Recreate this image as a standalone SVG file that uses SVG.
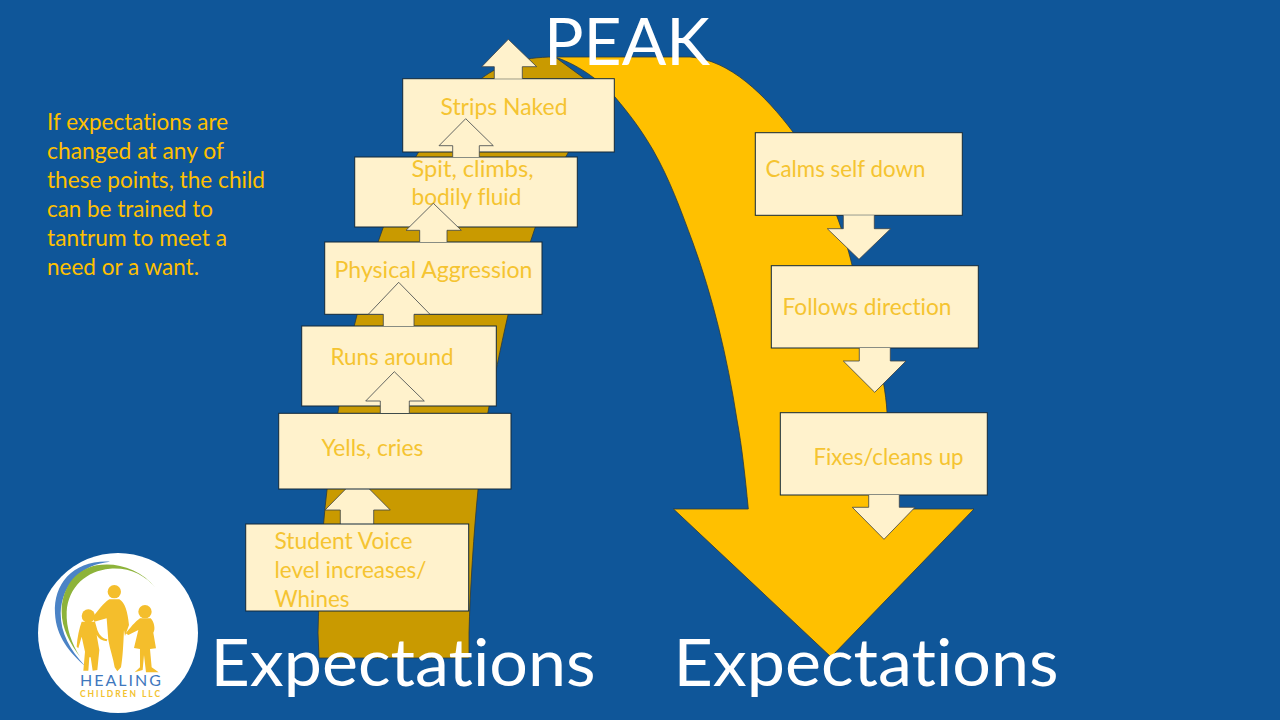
<svg xmlns="http://www.w3.org/2000/svg" width="1280" height="720" viewBox="0 0 1280 720">
<style>
.box{fill:#FFF2CC;stroke:#12283a;stroke-width:1}
.arw{fill:#FFF2CC;stroke:#3d4448;stroke-width:.8}
text{font-family:Lato,"Open Sans",sans-serif;font-variant-ligatures:none}
.lbl{font-size:23px;fill:#F5C431}
.side{font-size:23px;fill:#FFC000}
.big{fill:#fff;font-size:65px}
</style>
<rect width="1280" height="720" fill="#0F5699"/>
<g id="curve">
<path d="M319,658 L318,633 C319,590 322,530 327,490 C331,460 334,435 338,412 C343,380 349,345 357,315 C365,285 372,258 383,228 C393,200 405,175 418,153 C435,125 458,97 482,78 C500,65 520,57 555,57 L600,90 C590,110 578,130 568,153 C555,175 545,200 535,228 C525,258 516,285 508,315 C500,350 494,380 488,412 C484,435 481,460 478,490 C474,530 470,590 469,633 L469,658 Z" fill="#C99A00" stroke="#2b3a3f" stroke-width=".8"/>
<path d="M555,57 H690 C730,60 765,95 793,132 C825,175 845,235 852,265 C870,320 885,375 887,412 L888,509 L974,509 L831,657 L673.500,509 L748.300,509 C745,475 742,447 737,420 C727,355 712,295 693,243 C680,208 670,180 653,150 C640,128 630,115 615,97 C603,84 582,66 555,57 Z" fill="#FFC000" stroke="#2b3a3f" stroke-width=".8"/>
</g>
<g id="connector-back">
<path class="arw" d="M340.300,524 V510 H325 L357.500,477 L390.300,510 H373.700 V524"/>
</g>
<g id="node-student"><rect class="box" x="245.700" y="524" width="223" height="87"/><text class="lbl" x="274.500" y="549" textLength="138" lengthAdjust="spacingAndGlyphs">Student Voice</text><text class="lbl" x="274.500" y="578" textLength="152" lengthAdjust="spacingAndGlyphs">level increases/</text><text class="lbl" x="274.500" y="607" textLength="75" lengthAdjust="spacingAndGlyphs">Whines</text></g>
<g id="node-yells"><rect class="box" x="278.700" y="413.300" width="232.300" height="75.700"/><text class="lbl" x="321.500" y="456" textLength="102" lengthAdjust="spacingAndGlyphs">Yells, cries</text></g>
<g id="node-runs"><rect class="box" x="301.700" y="326" width="194.600" height="80"/><text class="lbl" x="330.500" y="365" textLength="123" lengthAdjust="spacingAndGlyphs">Runs around</text></g>
<g id="node-physical"><rect class="box" x="324.700" y="242" width="217.300" height="72.300"/><text class="lbl" x="334.500" y="278" textLength="198" lengthAdjust="spacingAndGlyphs">Physical Aggression</text></g>
<g id="node-spit"><rect class="box" x="354.700" y="157" width="222.600" height="70"/><text class="lbl" x="411.500" y="177" textLength="122" lengthAdjust="spacingAndGlyphs">Spit, climbs,</text><text class="lbl" x="411.500" y="205" textLength="110" lengthAdjust="spacingAndGlyphs">bodily fluid</text></g>
<g id="node-strips"><rect class="box" x="402.700" y="78.700" width="211.600" height="73.300"/><text class="lbl" x="440.500" y="115" textLength="127" lengthAdjust="spacingAndGlyphs">Strips Naked</text></g>
<g id="node-calms"><rect class="box" x="755.300" y="132.700" width="207" height="82.600"/><text class="lbl" x="765.500" y="177" textLength="160" lengthAdjust="spacingAndGlyphs">Calms self down</text></g>
<g id="node-follows"><rect class="box" x="771.300" y="265.700" width="207" height="82.300"/><text class="lbl" x="782.500" y="315" textLength="169" lengthAdjust="spacingAndGlyphs">Follows direction</text></g>
<g id="node-fixes"><rect class="box" x="780.300" y="412.700" width="207" height="82.300"/><text class="lbl" x="813.500" y="465" textLength="150" lengthAdjust="spacingAndGlyphs">Fixes/cleans up</text></g>
<g id="connectors">
<path class="arw" d="M494.300,78.700 V66.700 H481.700 L508.300,39.300 L536.700,66.700 H522.300 V78.700"/>
<path class="arw" d="M452.700,157 V145.700 H439 L465.700,118.700 L493.300,145.700 H479.300 V157"/>
<path class="arw" d="M419.700,242 V230.300 H406 L433.300,203.300 L461.300,230.300 H447 V242"/>
<path class="arw" d="M383.300,326 V314.300 H368.300 L398.700,282.300 L430,314.300 H414 V326"/>
<path class="arw" d="M380.300,413 V401 H365.700 L394.300,371.700 L424.300,401 H409.300 V413"/>
<path class="arw" d="M843.300,215.300 V228.700 H827.300 L859,259.300 L890.700,228.700 H874.300 V215.300"/>
<path class="arw" d="M859.300,348 V361 H843.300 L874.700,392.300 L906,361 H890.300 V348"/>
<path class="arw" d="M868.700,495 V507.300 H852.300 L884,539.300 L915,507.300 H899.300 V495"/>
</g>
<g id="titles">
<text class="big" x="544" y="65" textLength="166" lengthAdjust="spacingAndGlyphs">PEAK</text>
<text class="big" x="210.500" y="686" textLength="385" lengthAdjust="spacingAndGlyphs">Expectations</text>
<text class="big" x="673.500" y="686" textLength="385" lengthAdjust="spacingAndGlyphs">Expectations</text>
</g>
<g id="note">
<text class="side" x="47" y="130" textLength="181" lengthAdjust="spacingAndGlyphs">If expectations are</text>
<text class="side" x="47" y="159" textLength="177" lengthAdjust="spacingAndGlyphs">changed at any of</text>
<text class="side" x="47" y="188" textLength="218" lengthAdjust="spacingAndGlyphs">these points, the child</text>
<text class="side" x="47" y="217" textLength="166" lengthAdjust="spacingAndGlyphs">can be trained to</text>
<text class="side" x="47" y="246" textLength="180" lengthAdjust="spacingAndGlyphs">tantrum to meet a</text>
<text class="side" x="47" y="275" textLength="152" lengthAdjust="spacingAndGlyphs">need or a want.</text>
</g>
<g id="logo">
<circle cx="118" cy="633" r="80" fill="#fff"/>
<g transform="translate(30 540) scale(.3333)">
<path d="M240,65 C130,60 70,130 75,220 C78,290 120,340 165,378 C120,330 92,280 92,220 C95,130 160,72 240,65Z" fill="#4B83C6"/>
<path d="M378,145 C330,85 260,66 200,76 C130,90 95,150 95,215 C95,265 120,310 150,350 C125,310 108,265 110,215 C115,140 170,92 240,86 C300,82 345,105 378,145Z" fill="#8DB33A"/>
</g>
<g transform="translate(60 580) scale(.3333)" fill="#F4BE2C">
<circle cx="163" cy="35" r="20"/>
<path d="M148,58 L178,58 C195,68 203,95 207,135 L195,168 L192,150 C190,195 188,235 183,262 L172,274 L164,262 C160,235 150,210 145,180 L140,115 L103,125 L98,112 C115,90 130,70 148,58Z"/>
<circle cx="85" cy="108" r="20"/>
<path d="M65,125 L105,125 L112,150 C120,170 130,175 142,178 L140,184 C125,182 115,175 110,165 L118,210 L112,270 L98,272 L92,232 L88,232 L85,272 L70,272 L75,215 L65,170 L55,205 L50,200 C52,170 58,145 65,125Z"/>
<circle cx="255" cy="95" r="20"/>
<path d="M240,115 L272,115 C283,125 287,150 280,158 L288,205 L270,207 L275,262 L296,277 L258,277 L252,225 L248,270 L224,277 L240,262 L240,207 L222,204 L235,150 L205,165 L197,160 C210,145 225,125 240,115Z"/>
</g>
<text x="80" y="686" font-size="16" fill="#3F78BE" textLength="81" lengthAdjust="spacing">HEALING</text>
<text x="80" y="697" font-size="8.500" font-weight="700" fill="#F2C230" textLength="80" lengthAdjust="spacing">CHILDREN LLC</text>
</g>
</svg>
